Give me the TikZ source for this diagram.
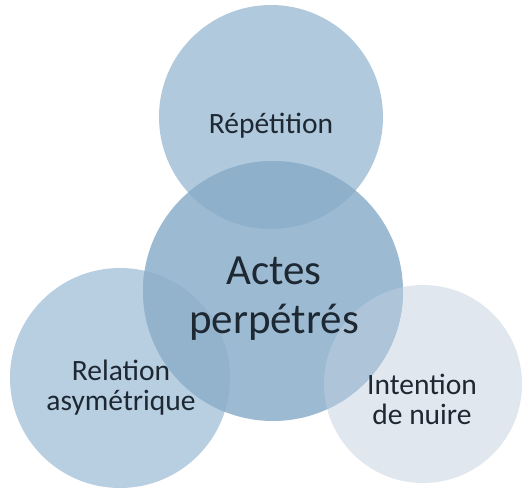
\documentclass[tikz,border=0pt]{standalone}
\usepackage{fontspec}
\setmainfont{Carlito}
\definecolor{ctop}{HTML}{B1C9DD}
\definecolor{cleft}{HTML}{B8CEE1}
\definecolor{cright}{HTML}{E0E7EF}
\definecolor{ccenter}{HTML}{9CBAD2}
\definecolor{cct}{HTML}{8EB0CB}
\definecolor{ccl}{HTML}{93B3CC}
\definecolor{ccr}{HTML}{AEC4D8}
\definecolor{txt}{HTML}{1E2833}
\begin{document}
\begin{tikzpicture}[x=1pt,y=-1pt,
  blob/.style={circle,inner sep=0pt,draw=none},
  lbl/.style={align=center,text=txt,inner sep=0pt,font=\fontsize{29.5}{30}\selectfont},
  biglbl/.style={align=center,text=txt,inner sep=0pt,font=\fontsize{43}{49}\selectfont}]
\useasboundingbox[fill=white] (0,0) rectangle (531,496);
\def\rt{112}\def\rl{110}\def\rr{99}\def\rc{130}
\coordinate (pt) at (271,117);
\coordinate (pl) at (120,378);
\coordinate (pr) at (423,384);
\coordinate (pc) at (273,291);
\node[blob,fill=ctop,minimum size=224pt] (top) at (pt) {};
\node[blob,fill=cleft,minimum size=220pt] (left) at (pl) {};
\node[blob,fill=cright,minimum size=198pt] (right) at (pr) {};
\node[blob,fill=ccenter,minimum size=260pt] (center) at (pc) {};
\begin{scope}
  \clip (pc) circle[radius=\rc];
  \fill[cct] (pt) circle[radius=\rt];
  \fill[ccl] (pl) circle[radius=\rl];
  \fill[ccr] (pr) circle[radius=\rr];
\end{scope}
\node[lbl] (trep) at (271,126) {Répétition};
\node[biglbl] (tact) at (274,299) {Actes\\perpétrés};
\node[lbl] (trel) at (121,388) {Relation\\asymétrique};
\node[lbl] (tint) at (422,399) {Intention\\de nuire};
\end{tikzpicture}
\end{document}
